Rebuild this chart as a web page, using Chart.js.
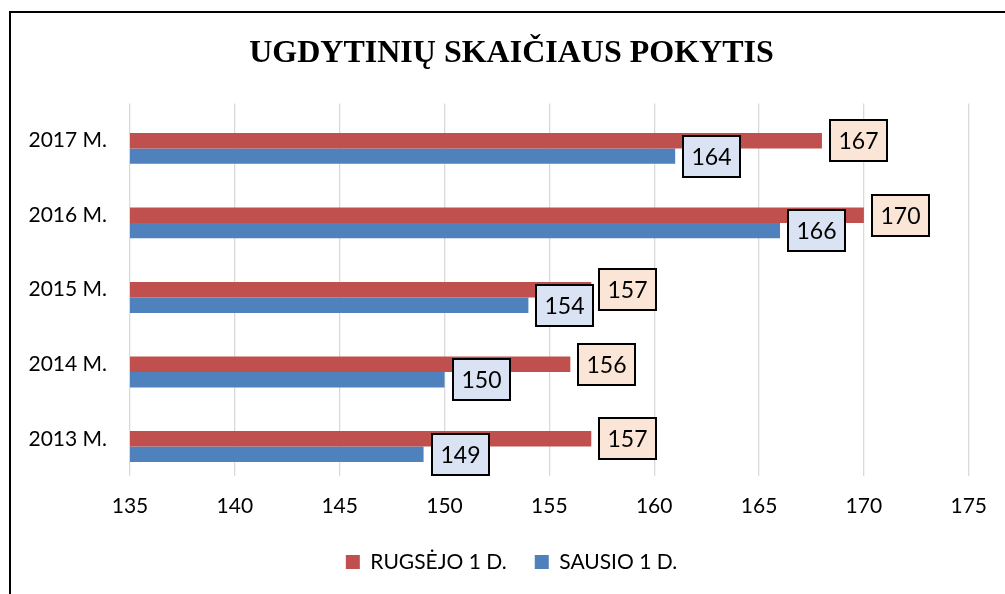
<!DOCTYPE html>
<html>
<head>
    <meta charset="utf-8">
    <title>Ugdytinių skaičiaus pokytis</title>
    <style>
        body { margin: 0; overflow: hidden; background: white; }
        #wrap { position: relative; width: 1005px; height: 594px; overflow: hidden; }
        #chart { position: absolute; left: 0; top: 0; }
        .frame { position: absolute; left: 9px; top: 11px; width: 1100px; height: 700px; border: 2px solid #000; pointer-events: none; }
    </style>
</head>
<body>
    <div id="wrap">
        <canvas id="chart" width="1005" height="594"></canvas>
        <div class="frame"></div>
    </div>

    <script src="https://cdn.jsdelivr.net/npm/chart.js"></script>
    <script>
        // data
        const years = ['2017 M.', '2016 M.', '2015 M.', '2014 M.', '2013 M.'];
        const rugsejo = [168, 170, 157, 156, 157];
        const sausio = [161, 166, 154, 150, 149];
        // labels as printed in the boxes (2017 differs from the bar lengths)
        const rugsejoLabels = ['167', '170', '157', '156', '157'];
        const sausioLabels = ['164', '166', '154', '150', '149'];
        const xTicks = [135, 140, 145, 150, 155, 160, 165, 170, 175];

        const RED = '#C0504D';
        const BLUE = '#4F81BD';

        // boxed value labels next to the bar ends
        const boxLabels = {
            id: 'boxLabels',
            afterDatasetsDraw(chart) {
                const ctx = chart.ctx;
                ctx.save();
                ctx.font = '23px Lato';
                ctx.textAlign = 'center';
                ctx.textBaseline = 'middle';
                [[1, rugsejoLabels, '#FBE5D6'], [2, sausioLabels, '#DAE3F3']].forEach(([di, texts, fill]) => {
                    chart.getDatasetMeta(di).data.forEach((bar, i) => {
                        const w = 57, h = 41;
                        const x = Math.round(bar.x + 8), y = Math.round(bar.y - h / 2);
                        ctx.fillStyle = fill;
                        ctx.fillRect(x, y, w, h);
                        ctx.lineWidth = 2;
                        ctx.strokeStyle = '#000';
                        ctx.strokeRect(x, y, w, h);
                        ctx.fillStyle = '#000';
                        ctx.fillText(texts[i], x + w / 2, y + h / 2 + 1);
                    });
                });
                ctx.restore();
            }
        };

        new Chart(document.getElementById('chart'), {
            type: 'bar',
            data: {
                labels: years,
                datasets: [
                    // empty slot: the original leaves a gap above the two bars
                    { label: '', data: years.map(() => null), backgroundColor: 'transparent' },
                    { label: 'RUGSĖJO 1 D.', data: rugsejo, backgroundColor: RED },
                    { label: 'SAUSIO 1 D.', data: sausio, backgroundColor: BLUE }
                ]
            },
            options: {
                indexAxis: 'y',
                responsive: false,
                animation: false,
                devicePixelRatio: 1,
                categoryPercentage: 0.622,
                barPercentage: 1,
                layout: { padding: { left: 18, right: 0, top: 0, bottom: 11.5 } },
                scales: {
                    x: {
                        min: 135, max: 175,
                        afterBuildTicks: s => { s.ticks = xTicks.map(v => ({ value: v })); },
                        grid: { color: '#D9D9D9', lineWidth: 1.3, drawTicks: false },
                        border: { display: false },
                        ticks: { color: '#000', font: { family: 'Lato', size: 21 }, padding: 18 },
                        afterFit: s => { s.height = 47.5; }
                    },
                    y: {
                        grid: { display: false, drawTicks: false },
                        border: { display: false },
                        ticks: { color: '#000', font: { family: 'Lato', size: 21 }, padding: 23 },
                        afterFit: s => { s.width = 112; }
                    },
                    y2: {
                        type: 'category',
                        position: 'right',
                        grid: { display: false, drawTicks: false },
                        border: { display: false },
                        ticks: { display: false },
                        afterFit: s => { s.width = 35; }
                    }
                },
                plugins: {
                    title: {
                        display: true,
                        text: 'UGDYTINIŲ SKAIČIAUS POKYTIS',
                        color: '#000',
                        font: { family: 'Liberation Serif', size: 32, weight: 'bold' },
                        padding: { top: 35, bottom: 30 }
                    },
                    legend: {
                        position: 'bottom',
                        labels: {
                            color: '#000',
                            font: { family: 'Lato', size: 21 },
                            boxWidth: 14, boxHeight: 14,
                            padding: 28,
                            filter: item => item.datasetIndex !== 0
                        }
                    },
                    tooltip: { enabled: false }
                }
            },
            plugins: [boxLabels]
        });
    </script>
</body>
</html>
